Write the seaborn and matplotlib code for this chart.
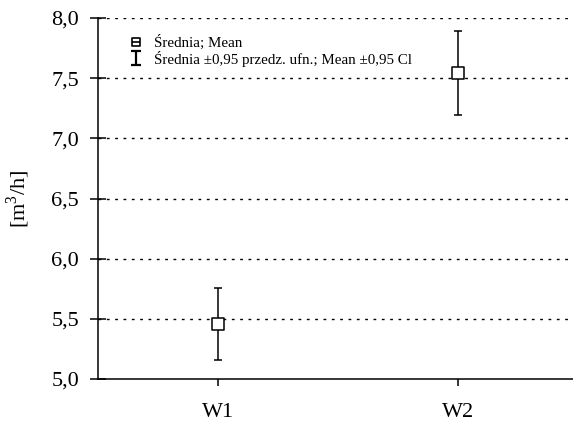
import numpy as np
import pandas as pd
import seaborn as sns
import matplotlib.pyplot as plt
from matplotlib.lines import Line2D
from matplotlib.path import Path


GROUPS = ["W1", "W2"]
MEANS = [5.46, 7.54]
CI_LOW = [5.16, 7.19]
CI_HIGH = [5.76, 7.89]
Y_TICKS = [5.0, 5.5, 6.0, 6.5, 7.0, 7.5, 8.0]
Y_TICK_LABELS = ["5,0", "5,5", "6,0", "6,5", "7,0", "7,5", "8,0"]

MEAN_MARKER = Path(
    [(-1, -1), (1, -1), (1, 1), (-1, 1), (-1, -1), (-1, 0), (1, 0)],
    [Path.MOVETO, Path.LINETO, Path.LINETO, Path.LINETO, Path.CLOSEPOLY,
     Path.MOVETO, Path.LINETO],
)
CI_MARKER = Path(
    [(-0.7, 1), (0.7, 1), (0, 1), (0, -1), (-0.7, -1), (0.7, -1)],
    [Path.MOVETO, Path.LINETO, Path.MOVETO, Path.LINETO, Path.MOVETO, Path.LINETO],
)


def main() -> None:
    sns.set_theme(style="white")
    plt.rcParams["font.family"] = ["Liberation Serif", "DejaVu Serif"]
    plt.rcParams["mathtext.fontset"] = "custom"
    plt.rcParams["mathtext.rm"] = "Liberation Serif"
    plt.rcParams["text.color"] = "black"
    plt.rcParams["axes.labelcolor"] = "black"
    plt.rcParams["xtick.color"] = "black"
    plt.rcParams["ytick.color"] = "black"

    df = pd.DataFrame({"group": GROUPS, "mean": MEANS, "lo": CI_LOW, "hi": CI_HIGH})

    fig = plt.figure(figsize=(5.73, 4.24), dpi=100)
    ax = fig.add_axes([98 / 573, 1 - 379 / 424, 475 / 573, 361 / 424])

    for y in Y_TICKS[1:]:
        ax.axhline(y, color="black", linestyle=(0, (2, 4)), linewidth=1.0, zorder=0)

    x = np.arange(len(GROUPS))
    ax.errorbar(
        x, df["mean"],
        yerr=[df["mean"] - df["lo"], df["hi"] - df["mean"]],
        fmt="none", ecolor="black", elinewidth=1.1, capsize=3, capthick=1.1, zorder=2,
    )
    sns.scatterplot(
        data=df, x="group", y="mean", marker="s", s=80,
        color="white", edgecolor="black", linewidth=1.1, zorder=3, ax=ax,
    )

    ax.set_xlim(-0.5, 1.48)
    ax.set_ylim(5.0, 8.0)
    ax.set_yticks(Y_TICKS)
    ax.set_yticklabels(Y_TICK_LABELS)
    ax.set_xticks(x)
    ax.set_xticklabels(GROUPS)
    ax.set_xlabel("")
    ax.set_ylabel("[m$^3$/h]", fontsize=16, labelpad=14)

    for side in ["top", "right"]:
        ax.spines[side].set_visible(False)
    for side in ["left", "bottom"]:
        ax.spines[side].set_color("black")
        ax.spines[side].set_linewidth(1.1)
    ax.tick_params(axis="y", left=True, direction="inout", length=11, width=1.1,
                   labelsize=16, pad=8)
    ax.tick_params(axis="x", bottom=True, direction="out", length=5, width=1.1,
                   labelsize=16, pad=12)

    handles = [
        Line2D([0], [0], linestyle="none", marker=MEAN_MARKER, markersize=6,
               markerfacecolor="none", markeredgecolor="black", markeredgewidth=1.2,
               label="Średnia; Mean"),
        Line2D([0], [0], linestyle="none", marker=CI_MARKER, markersize=10,
               markeredgecolor="black", markeredgewidth=1.6,
               label="Średnia ±0,95 przedz. ufn.; Mean ±0,95 Cl"),
    ]
    ax.legend(handles=handles, loc="upper left", bbox_to_anchor=(0.057, 0.97),
              frameon=False, fontsize=10.8, handlelength=0.6, handletextpad=0.9,
              labelspacing=0.05, borderaxespad=0)

    fig.savefig("out.png", dpi=100)
    plt.close(fig)


if __name__ == "__main__":
    main()
